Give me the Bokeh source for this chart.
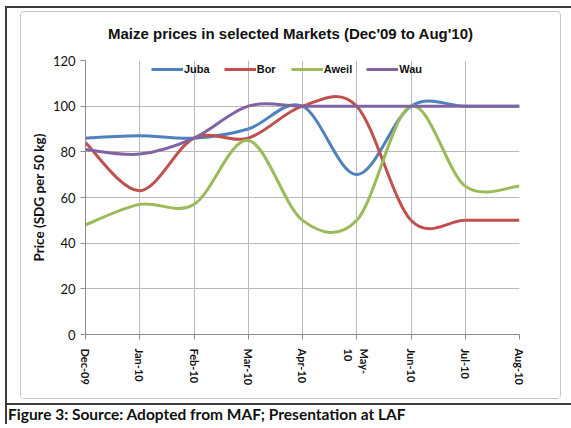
import numpy as np
from bokeh.plotting import figure
from bokeh.models import Range1d, FixedTicker, Legend, LegendItem, Div
from bokeh.layouts import column
from bokeh.embed import file_html
from bokeh.resources import INLINE

# ---------------- data ----------------
months = ["Dec-09", "Jan-10", "Feb-10", "Mar-10", "Apr-10", "May-\n10", "Jun-10", "Jul-10", "Aug-10"]
juba = [86, 87, 86, 90, 100, 70, 100, 100, 100]
bor = [84, 63, 86, 86, 100, 100, 50, 50, 50]
aweil = [48, 57, 57, 85, 50, 50, 100, 65, 65]
wau = [81, 79, 86, 100, 100, 100, 100, 100, 100]
y_ticks = [0, 20, 40, 60, 80, 100, 120]
series_names = ["Juba", "Bor", "Aweil", "Wau"]
series_values = [juba, bor, aweil, wau]
colors = ["#4F81BD", "#C0504D", "#9BBB59", "#8064A2"]

title_text = "Maize prices in selected Markets (Dec'09 to Aug'10)"
y_label = "Price (SDG per 50 kg)"
caption_text = "Figure 3: Source: Adopted from MAF; Presentation at LAF"

x_idx = list(range(len(months)))


def smooth_segments(ys):
    """Control points of a smoothed (Catmull-Rom style) line through the data."""
    x = np.asarray(x_idx, dtype=float)
    y = np.asarray(ys, dtype=float)
    xp = np.concatenate([[x[0]], x, [x[-1]]])
    yp = np.concatenate([[y[0]], y, [y[-1]]])
    n = len(x)
    seg = dict(x0=[], y0=[], x1=[], y1=[], cx0=[], cy0=[], cx1=[], cy1=[])
    for i in range(n - 1):
        a, b, c, d = i, i + 1, i + 2, i + 3
        seg["x0"].append(xp[b]); seg["y0"].append(yp[b])
        seg["x1"].append(xp[c]); seg["y1"].append(yp[c])
        seg["cx0"].append(xp[b] + (xp[c] - xp[a]) / 6.0)
        seg["cy0"].append(yp[b] + (yp[c] - yp[a]) / 6.0)
        seg["cx1"].append(xp[c] - (xp[d] - xp[b]) / 6.0)
        seg["cy1"].append(yp[c] - (yp[d] - yp[b]) / 6.0)
    return seg


# ---------------- figure ----------------
p = figure(width=539, height=346, output_backend="svg", toolbar_location=None,
           x_range=Range1d(0, len(months) - 1), y_range=Range1d(y_ticks[0], y_ticks[-1]),
           min_border_left=64, min_border_right=41, min_border_top=8, min_border_bottom=64)
p.background_fill_color = "white"
p.border_fill_color = "white"
p.outline_line_color = None

items = []
for name, vals, col in zip(series_names, series_values, colors):
    s = smooth_segments(vals)
    r = p.bezier(x0=s["x0"], y0=s["y0"], x1=s["x1"], y1=s["y1"],
                 cx0=s["cx0"], cy0=s["cy0"], cx1=s["cx1"], cy1=s["cy1"],
                 line_color=col, line_width=3)
    items.append(LegendItem(label=name, renderers=[r]))

# axes
p.xaxis.ticker = FixedTicker(ticks=x_idx)
p.xaxis.major_label_overrides = {i: m for i, m in zip(x_idx, months)}
p.xaxis.major_label_orientation = "vertical"
p.xaxis.major_label_text_font = "Lato"
p.xaxis.major_label_text_font_style = "bold"
p.xaxis.major_label_text_font_size = "11px"
p.xaxis.major_label_text_color = "#111111"
p.xaxis.major_label_standoff = 9
p.xaxis.minor_tick_line_color = None

p.yaxis.ticker = FixedTicker(ticks=y_ticks)
p.yaxis.major_label_text_font = "Lato"
p.yaxis.major_label_text_font_size = "13px"
p.yaxis.major_label_text_color = "#111111"
p.yaxis.major_label_standoff = 5
p.yaxis.minor_tick_line_color = None
p.yaxis.axis_label = y_label
p.yaxis.axis_label_text_font = "Lato"
p.yaxis.axis_label_text_font_style = "bold"
p.yaxis.axis_label_text_font_size = "13.5px"
p.yaxis.axis_label_text_color = "#111111"
p.yaxis.axis_label_standoff = 3

for ax in (p.xaxis, p.yaxis):
    ax.axis_line_color = "#8c8c8c"
    ax.major_tick_line_color = "#8c8c8c"
    ax.major_tick_out = 5
    ax.major_tick_in = 0

p.xgrid.ticker = FixedTicker(ticks=x_idx)
p.ygrid.ticker = FixedTicker(ticks=y_ticks)
p.grid.grid_line_color = "#b9b9b9"
p.grid.grid_line_width = 1

legend = Legend(items=items, orientation="horizontal", location=(66, 258),
                border_line_color=None, background_fill_alpha=0, padding=2, spacing=14,
                glyph_width=32, glyph_height=14, label_height=14, label_standoff=1,
                label_text_font="Liberation Sans", label_text_font_style="bold",
                label_text_font_size="11px", label_text_color="#111111", margin=0)
p.add_layout(legend)

# ---------------- surrounding frame ----------------
title_div = Div(text=('<div style="width:539px;text-align:center;padding-top:13px;'
                      'font-family:\'Liberation Sans\';font-weight:bold;font-size:15px;'
                      'line-height:17px;color:#111;white-space:nowrap">' + title_text + '</div>'),
                width=539, height=40, margin=0)

chart_box = column(title_div, p, margin=(3, 0, 4, 13), spacing=0,
                   styles={"border": "1px solid #c4c4c4", "border-radius": "4px"})

caption = Div(text=('<div style="width:564px;border-top:2px solid #3c3c3c;padding-left:1px;'
                    'font-family:Lato;font-weight:bold;font-size:15.5px;line-height:18px;'
                    'color:#111;white-space:nowrap">' + caption_text + '</div>'),
              width=564, height=21, margin=0)

page = column(chart_box, caption, spacing=0,
              styles={"border-top": "2px solid #3c3c3c", "border-left": "2px solid #3c3c3c",
                      "margin-left": "5px", "margin-top": "6px"})

open("out.html", "w").write(file_html(page, INLINE))
